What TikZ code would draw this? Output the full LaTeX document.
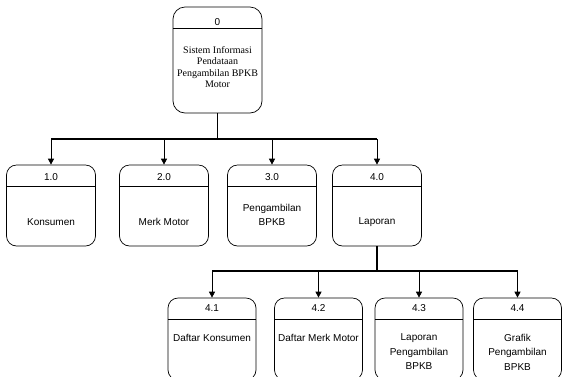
\documentclass[tikz,border=0pt]{standalone}
\usepackage{fontspec}
\setmainfont{Liberation Sans}
\newfontfamily\titlefont{Liberation Serif}
\usetikzlibrary{arrows.meta, positioning}

\begin{document}
\begin{tikzpicture}[x=1pt, y=-1pt,
			every node/.style={font=\fontsize{10}{14.5}\selectfont, align=center, inner sep=0pt},
			proc/.style={draw, line width=0.7pt, rounded corners=10pt, minimum width=89pt, minimum height=81pt,
				path picture={\draw[line width=0.7pt] ([yshift=-21pt]path picture bounding box.north west) -- ([yshift=-21pt]path picture bounding box.north east);}},
			trunk/.style={line width=1.2pt},
			arr/.style={-{Triangle[length=6pt, width=6pt]}, line width=0.8pt}]
			\useasboundingbox (0,0) rectangle (562,376);
			% level 0
			\node[proc, minimum height=106pt, rounded corners=12pt] (p0) at (217.5,60) {};
			\node (n0) at (217.5,22) {0};
			\node[font=\titlefont\fontsize{10}{11.5}\selectfont] (t0) at (217.5,67) {Sistem Informasi\\Pendataan\\Pengambilan BPKB\\Motor};
			% level 1
			\node[proc] (p1) at (51,205.5) {};
			\node[proc] (p2) at (164,205.5) {};
			\node[proc] (p3) at (272,205.5) {};
			\node[proc] (p4) at (377,205.5) {};
			\node (n1) at (51,177) {1.0};
			\node (n2) at (164,177) {2.0};
			\node (n3) at (272,177) {3.0};
			\node (n4) at (377,177) {4.0};
			\node (t1) at (51,222) {Konsumen};
			\node (t2) at (164,222) {Merk Motor};
			\node (t3) at (272,215) {Pengambilan\\BPKB};
			\node (t4) at (377,222) {Laporan};
			% level 2
			\node[proc, minimum width=88pt, minimum height=82pt] (p41) at (212,339) {};
			\node[proc, minimum width=88pt, minimum height=82pt] (p42) at (318.5,339) {};
			\node[proc, minimum width=88pt, minimum height=82pt] (p43) at (419,339) {};
			\node[proc, minimum width=88pt, minimum height=82pt] (p44) at (517.5,339) {};
			\node (n41) at (212,308) {4.1};
			\node (n42) at (318.5,308) {4.2};
			\node (n43) at (419,308) {4.3};
			\node (n44) at (517.5,308) {4.4};
			\node (t41) at (212,338) {Daftar Konsumen};
			\node (t42) at (318.5,338) {Daftar Merk Motor};
			\node (t43) at (419,352) {Laporan\\Pengambilan\\BPKB};
			\node (t44) at (517.5,352) {Grafik\\Pengambilan\\BPKB};
			% connectors
			\coordinate (j0) at (217.5,139);
			\coordinate (j4) at (377,271);
			\draw[trunk] (p0.south) -- (j0);
			\draw[trunk] (p1.north |- j0) -- (p4.north |- j0);
			\draw[arr] (j0) -| (p1);
			\draw[arr] (j0) -| (p2);
			\draw[arr] (j0) -| (p3);
			\draw[arr] (j0) -| (p4);
			\draw[trunk] (p4.south) -- (j4);
			\draw[trunk] (p41.north |- j4) -- (p44.north |- j4);
			\draw[arr] (j4) -| (p41);
			\draw[arr] (j4) -| (p42);
			\draw[arr] (j4) -| (p43);
			\draw[arr] (j4) -| (p44);
		\end{tikzpicture}
\end{document}
